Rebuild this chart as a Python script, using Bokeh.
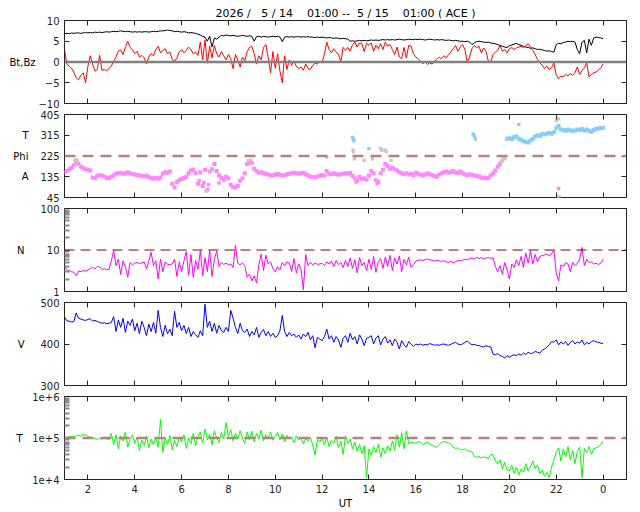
from bokeh.plotting import figure
from bokeh.layouts import column
from bokeh.models import (Range1d, LinearAxis, LogAxis, FixedTicker, Span,
                          ColumnDataSource, BasicTickFormatter)
from bokeh.embed import file_html
from bokeh.resources import INLINE

# ---------------- data ----------------
hours = [round(1 + 0.1 * i, 1) for i in range(231)]   # 01:00 .. 24:00 UT, 6-min grid

bt = [6.8, 6.9, 6.8, 7.0, 6.9, 7.0, 7.0, 6.9, 7.0, 7.1,
      7.0, 7.1, 7.0, 7.2, 7.1, 7.2, 7.1, 7.2, 7.3, 7.2,
      7.3, 7.4, 7.3, 7.4, 7.5, 7.4, 7.3, 7.4, 7.3, 7.2,
      7.3, 7.2, 7.3, 7.2, 7.3, 7.3, 7.2, 7.3, 7.4, 7.3,
      7.4, 7.5, 7.5, 7.6, 7.7, 7.6, 7.5, 7.3, 7.4, 7.3,
      7.2, 7.3, 7.2, 7.0, 7.1, 7.0, 6.9, 6.7, 6.5, 6.2,
      6.0, 5.0, 6.2, 3.6, 5.8, 5.5, 6.0, 6.4, 6.3, 6.5,
      6.4, 6.3, 6.4, 6.3, 6.2, 6.3, 6.4, 6.3, 6.2, 6.3,
      6.2, 5.0, 6.1, 6.2, 6.0, 6.2, 6.1, 6.0, 6.1, 6.2,
      6.1, 6.2, 6.0, 4.9, 6.0, 6.1, 6.0, 6.1, 6.0, 6.1,
      6.1, 6.0, 6.1, 6.0, 6.1, 6.0, 6.0, 5.9, 6.0, 5.9,
      6.0, 5.9, 5.8, 5.9, 5.8, 5.7, 5.8, 5.7, 5.6, 5.7,
      5.6, 5.5, 5.0, 5.1, 5.0, 5.1, 5.2, 5.1, 5.2, 5.1,
      5.2, 5.3, 5.2, 5.3, 5.2, 5.3, 5.4, 5.3, 5.4, 5.3,
      5.4, 5.3, 5.4, 5.5, 5.4, 5.3, 5.4, 5.5, 5.4, 5.4,
      5.5, 5.4, 5.5, 5.4, 5.3, 5.4, 5.5, 5.4, 5.3, 5.4,
      5.3, 5.4, 5.3, 5.2, 5.3, 5.2, 5.1, 5.2, 5.1, 5.0,
      5.0, 4.9, 5.0, 4.8, 4.2, 4.6, 4.9, 5.0, 4.9, 4.8,
      4.7, 4.8, 4.6, 4.5, 4.4, 4.2, 4.0, 3.8, 3.6, 3.5,
      3.9, 4.1, 4.3, 4.5, 4.2, 4.0, 3.8, 3.6, 3.5, 3.3,
      3.4, 3.2, 3.0, 3.1, 2.9, 2.8, 2.6, 2.7, 2.5, 2.4,
      4.2, 4.5, 4.4, 4.7, 4.8, 5.0, 4.9, 5.0, 4.8, 3.0,
      2.0, 4.8, 5.2, 2.2, 5.5, 4.0, 5.8, 6.0, 5.9, 5.8,
      5.6]

bz = [3.0, -0.5, -1.0, -1.5, -2.5, -3.8, -4.3, -3.2, -2.6, -5.0,
      -1.0, 1.5, -0.5, -2.2, -1.8, 1.6, -2.0, -1.8, -2.1, -1.6,
      -1.0, 0.2, 1.2, 2.6, 2.9, 1.8, 3.5, 5.0, 3.5, 3.0,
      2.0, 2.6, 1.2, 1.6, 1.0, -0.5, 1.2, 2.0, 1.5, 3.0,
      3.8, 2.2, 2.8, 3.2, 2.0, 2.4, 0.6, 0.2, 1.0, 2.4,
      3.0, 2.2, 2.8, 3.6, 3.0, 2.0, 2.4, 1.6, 4.8, 0.5,
      5.3, -0.3, 3.8, 1.0, 4.0, 2.0, 1.2, 2.5, 1.5, 0.5,
      1.8, 0.8, -1.6, 1.8, 0.5, -1.2, 1.2, 0.3, 2.5, 3.5,
      3.8, 2.0, -0.5, 1.5, 0.5, 3.5, 4.2, 1.0, -2.6, 2.5,
      -1.5, 2.0, -2.2, -5.0, 1.5, -1.8, 0.5, -0.8, 0.2, -1.0,
      -1.6, -1.2, -2.0, -0.5, -1.5, -1.8, -0.8, -0.3, -0.5, 0.2,
      -0.2, 2.0, 4.8, 3.0, 2.2, 3.2, 2.4, 1.8, 0.0, 3.5,
      2.8, 3.5, 2.6, 4.2, 4.8, 3.6, 4.6, 4.4, 2.5, 4.5,
      4.0, 4.6, 2.6, 4.0, 3.2, 4.4, 3.0, 4.8, 3.8, 4.2,
      3.0, 1.8, 3.6, 1.2, 0.8, 3.5, 1.0, 4.0, 3.8, 2.0,
      1.2, 0.8, 0.2, -0.4, 0.0, -0.6, -0.2, -0.5, 0.2, 0.6,
      1.2, 0.8, 1.5, 1.0, 1.8, 2.4, 3.2, 4.0, 2.6, 3.6,
      4.2, 3.0, 0.0, 1.2, 3.2, 4.0, 3.4, 3.8, 2.2, 3.4,
      2.6, 0.2, 0.0, 1.8, 2.4, 2.8, 4.0, 2.6, 3.0, 2.2,
      3.2, 3.5, 3.0, 3.4, 3.6, 3.8, 3.4, 4.0, 4.4, 3.6,
      2.8, 1.8, 0.6, -0.2, -0.8, -1.6, -1.0, -1.8, -1.4, -0.2,
      -3.2, -4.0, -3.4, -3.6, -3.0, -3.4, -2.8, -3.2, -2.6, -1.2,
      -3.0, -2.0, -1.5, -0.2, -3.6, -3.0, -2.6, -2.4, -2.0, -1.4,
      -0.5]

phi = [155, 160, 168, 175, 185, 198, 190, 178, 172, 168,
       165, 162, 132, 128, 138, 142, 140, 136, 130, 128,
       135, 142, 148, 150, 152, 148, 150, 154, 150, 147,
       145, 140, 142, 138, 136, 140, 134, 128, 126, 130,
       126, 132, 148, 154, 152, 158, 105, 90, 112, 120,
       125, 130, 134, 150, 162, 166, 150, 105, 155, 95,
       165, 80, 158, 168, 190, 160, 140, 130, 122, 135,
       128, 100, 92, 88, 95, 118, 128, 150, 190, 198,
       196, 170, 160, 152, 155, 150, 148, 145, 140, 142,
       145, 148, 144, 140, 142, 146, 148, 150, 152, 150,
       148, 150, 152, 146, 140, 136, 134, 132, 136, 140,
       142, 140, 160, 148, 146, 150, 147, 144, 146, 148,
       150, 148, 152, 138, 128, 118, 135, 125, 128, 122,
       140, 160, 150, 120, 112, 150, 165, 190, 182, 170,
       175, 168, 162, 155, 150, 146, 150, 145, 148, 142,
       152, 148, 144, 140, 145, 150, 146, 142, 138, 135,
       145, 150, 155, 158, 152, 156, 160, 155, 150, 158,
       150, 145, 142, 146, 144, 140, 138, 136, 130, 132,
       128, 130, 140, 150, 162, 178, 190, 205, 215, 300,
       302, 298, 306, 310, 300, 296, 290, 286, 284, 292,
       300, 310, 315, 312, 320, 318, 322, 325, 322, 328,
       345, 355, 340, 338, 335, 340, 337, 333, 336, 340,
       338, 342, 336, 340, 335, 330, 338, 342, 344, 346,
       348]

phi_gray_hours = [1.45, 1.5, 1.55, 8.85, 8.95, 12.2, 13.32, 13.35, 13.38, 13.8, 14.15,
                  14.5, 14.55, 14.7, 14.75, 14.95, 19.65, 19.75, 22.0, 22.1, 22.05, 22.12, 7.05]
phi_gray_deg = [206, 210, 204, 205, 207, 220, 250, 243, 213, 206, 213,
                257, 250, 250, 243, 206, 200, 220, 379, 386, 45, 48, 72]
phi_blue_hours = [13.3, 13.33, 13.36, 14.0, 18.45, 18.5, 18.55, 20.4]
phi_blue_deg = [306, 298, 291, 257, 321, 310, 299, 362]
phi_violet_hours = [22.1, 6.75, 6.95, 7.15, 7.6, 13.45, 14.35]
phi_violet_deg = [84, 118, 110, 100, 108, 112, 104]

density = [4.1, 3.3, 3.2, 3.0, 2.9, 2.4, 3.1, 3.0, 3.2, 3.1,
           3.3, 3.6, 3.8, 3.5, 4.0, 3.9, 3.4, 3.5, 3.4, 3.4,
           5.5, 9.8, 4.2, 6.0, 2.6, 5.5, 4.0, 2.2, 5.0, 4.4,
           4.8, 5.0, 4.7, 4.9, 5.2, 3.5, 5.4, 8.8, 4.2, 5.5,
           2.0, 6.0, 3.0, 5.2, 4.5, 4.4, 4.6, 6.0, 2.3, 5.2,
           3.0, 5.5, 9.2, 2.5, 7.8, 2.2, 5.6, 3.4, 9.6, 2.4,
           6.5, 3.0, 9.8, 2.3, 5.8, 9.5, 4.0, 5.0, 4.5, 4.8,
           4.4, 4.6, 3.8, 13.0, 4.8, 4.4, 4.9, 4.2, 2.2, 2.6,
           1.8, 2.4, 1.6, 4.5, 8.0, 3.2, 7.5, 4.6, 5.2, 3.6,
           3.0, 4.0, 3.3, 5.0, 4.2, 5.2, 4.8, 3.0, 6.2, 2.8,
           4.6, 3.4, 1.1, 7.8, 4.2, 5.0, 4.4, 4.8, 4.5, 4.6,
           4.8, 4.2, 5.2, 4.6, 5.4, 4.0, 5.6, 4.4, 5.0, 3.8,
           5.6, 4.0, 6.4, 3.6, 5.8, 2.8, 6.6, 4.2, 5.0, 3.2,
           6.0, 3.4, 7.0, 2.9, 5.2, 6.2, 3.6, 6.8, 4.0, 7.4,
           3.2, 6.4, 4.6, 7.2, 3.0, 6.0, 4.4, 6.8, 3.8, 4.4,
           5.4, 5.6, 5.8, 5.6, 5.9, 6.1, 5.8, 5.6, 5.4, 5.7,
           5.5, 5.3, 5.5, 5.2, 5.0, 5.4, 4.9, 5.2, 5.6, 5.4,
           5.7, 6.0, 5.8, 6.2, 6.4, 6.1, 6.6, 6.3, 6.5, 6.2,
           6.4, 6.6, 6.3, 6.5, 4.0, 3.0, 4.2, 2.6, 5.0, 3.4,
           2.0, 4.6, 3.8, 5.8, 4.2, 7.0, 3.8, 8.4, 4.8, 9.6,
           4.6, 7.8, 5.2, 7.0, 7.4, 7.6, 8.0, 7.2, 8.2, 10.0,
           2.8, 1.8, 4.4, 4.0, 5.0, 4.6, 3.0, 5.0, 4.2, 4.8,
           6.0, 11.5, 4.2, 6.0, 5.0, 5.2, 4.6, 4.8, 4.5, 4.8,
           6.0]

speed = [465, 456, 455, 453, 454, 475, 462, 460, 458, 457,
         459, 461, 455, 457, 454, 452, 450, 451, 449, 450,
         452, 466, 430, 458, 440, 462, 428, 455, 445, 460,
         432, 450, 425, 455, 440, 420, 448, 430, 452, 426,
         481, 440, 418, 445, 425, 436, 420, 479, 440, 452,
         432, 445, 425, 440, 418, 430, 422, 416, 432, 420,
         496, 440, 455, 430, 450, 426, 445, 432, 428, 440,
         430, 481, 462, 440, 425, 450, 432, 428, 436, 418,
         430, 422, 440, 416, 428, 435, 420, 430, 418, 426,
         416, 420, 432, 469, 430, 418, 428, 420, 424, 416,
         422, 412, 424, 418, 428, 410, 420, 391, 416, 412,
         408, 418, 436, 412, 420, 404, 418, 410, 392, 414,
         420, 404, 426, 410, 418, 400, 422, 412, 396, 414,
         416, 420, 400, 414, 420, 398, 412, 418, 402, 410,
         396, 412, 404, 388, 408, 398, 392, 406, 400, 394,
         400, 398, 400, 397, 399, 398, 401, 399, 397, 398,
         397, 399, 400, 398, 397, 399, 402, 404, 400, 398,
         400, 404, 407, 402, 398, 399, 397, 396, 394, 393,
         396, 394, 393, 376, 374, 377, 372, 370, 366, 372,
         368, 372, 374, 372, 376, 373, 378, 375, 380, 377,
         378, 382, 380, 378, 385, 388, 392, 398, 406, 404,
         410, 398, 405, 400, 406, 397, 404, 408, 400, 405,
         402, 410, 398, 404, 400, 406, 408, 405, 404, 402,
         401]

temp_kk = [100, 104, 108, 110, 106, 112, 118, 110, 125, 120,
           108, 104, 100, 96, 92, 98, 94, 100, 96, 92,
           130, 70, 120, 55, 110, 85, 140, 60, 95, 118,
           75, 105, 50, 90, 65, 112, 58, 95, 70, 100,
           60, 280, 45, 98, 70, 115, 52, 88, 62, 105,
           80, 120, 56, 100, 72, 130, 65, 110, 140, 75,
           165, 90, 125, 68, 150, 100, 78, 135, 95, 235,
           110, 160, 85, 130, 95, 150, 100, 75, 140, 90,
           145, 80, 130, 95, 155, 85, 120, 100, 140, 88,
           110, 135, 90, 125, 80, 115, 95, 105, 78, 112,
           90, 100, 72, 95, 85, 105, 68, 39, 90, 82,
           98, 70, 105, 62, 88, 75, 110, 58, 85, 40,
           112, 75, 95, 55, 80, 48, 70, 42, 65, 11,
           55, 38, 62, 45, 70, 35, 58, 42, 65, 48,
           85, 50, 120, 60, 135, 55, 147, 72, 80, 78,
           75, 82, 78, 70, 74, 80, 72, 68, 62, 60,
           70, 78, 82, 80, 76, 72, 60, 56, 58, 52,
           52, 55, 50, 48, 46, 36, 34, 36, 33, 35,
           34, 32, 40, 39, 28, 24, 30, 18, 26, 17,
           16, 22, 14, 20, 13, 18, 15, 24, 16, 20,
           28, 18, 22, 14, 17, 12, 15, 11, 20, 30,
           45, 58, 28, 55, 35, 62, 30, 50, 24, 48,
           60, 11, 56, 45, 62, 40, 55, 58, 62, 68,
           85]

x_ticks = [2, 4, 6, 8, 10, 12, 14, 16, 18, 20, 22, 24]
x_tick_labels = {24: "0"}
title_text = "2026 /\u00a0\u00a0 5 / 14\u00a0\u00a0\u00a0 01:00 --\u00a0 5 / 15\u00a0\u00a0\u00a0 01:00 ( ACE )"

# ---------------- styling helpers ----------------
FONT = "DejaVu Sans"
INK = "#222222"
W = 640


def style_axis(ax, labels):
    ax.axis_line_color = None
    ax.major_tick_in = 5
    ax.major_tick_out = 0
    ax.major_tick_line_color = INK
    ax.minor_tick_line_color = None
    ax.major_label_text_font = FONT
    ax.major_label_text_font_size = "10px"
    if labels:
        ax.major_label_text_color = INK
        ax.major_label_standoff = 5
    else:
        ax.major_label_text_color = None
        ax.major_label_standoff = 0


def add_name_axis(p, ticks, names, standoff, log=False):
    ax = (LogAxis if log else LinearAxis)(ticker=FixedTicker(ticks=ticks))
    ax.major_label_overrides = dict(zip(ticks, names))
    ax.axis_line_color = None
    ax.major_tick_line_color = None
    ax.minor_tick_line_color = None
    ax.major_tick_in = 0
    ax.major_tick_out = 0
    ax.major_label_standoff = standoff
    ax.major_label_text_font = FONT
    ax.major_label_text_font_size = "10px"
    ax.major_label_text_color = "black"
    p.add_layout(ax, "left")


def make_panel(height, top, bottom, y_start, y_end, y_ticks, log=False,
               minor=None, y_overrides=None, x_labels=False, title=None):
    p = figure(width=W, height=height, title=title,
               x_range=Range1d(1, 25), y_range=Range1d(y_start, y_end),
               y_axis_type="log" if log else "linear",
               output_backend="svg", toolbar_location=None,
               min_border_left=64, min_border_right=14,
               min_border_top=top, min_border_bottom=bottom)
    p.xgrid.grid_line_color = None
    p.ygrid.grid_line_color = None
    p.outline_line_color = INK
    p.outline_line_width = 1
    p.background_fill_color = "white"
    p.border_fill_color = "white"

    bx = p.below[0]
    bx.ticker = FixedTicker(ticks=x_ticks)
    style_axis(bx, x_labels)
    if x_labels:
        bx.major_label_overrides = x_tick_labels

    ly = p.left[0]
    if minor:
        ly.ticker = FixedTicker(ticks=y_ticks, minor_ticks=minor)
    else:
        ly.ticker = FixedTicker(ticks=y_ticks)
    style_axis(ly, True)
    ly.formatter = BasicTickFormatter()
    if y_overrides:
        ly.major_label_overrides = y_overrides
    if minor:
        ly.minor_tick_line_color = "#8a8a8a"
        ly.minor_tick_line_width = 2
        ly.minor_tick_in = 5
        ly.minor_tick_out = 0

    ry = LogAxis(ticker=FixedTicker(ticks=y_ticks)) if log else LinearAxis(ticker=FixedTicker(ticks=y_ticks))
    style_axis(ry, False)
    p.add_layout(ry, "right")

    tx = LinearAxis(ticker=FixedTicker(ticks=x_ticks))
    style_axis(tx, False)
    p.add_layout(tx, "above")
    return p


# ---------------- panel 1 : Bt, Bz ----------------
p1 = make_panel(108, 20, 5, -10, 10, [-10, -5, 0, 5, 10], title=title_text)
p1.title.align = "center"
p1.title.text_font = FONT
p1.title.text_font_size = "11px"
p1.title.text_font_style = "normal"
p1.title.text_color = "black"
p1.title.standoff = 2
src = ColumnDataSource(dict(h=hours, bt=bt, bz=bz))
p1.line("h", "bt", source=src, line_color="black", line_width=1)
p1.line("h", "bz", source=src, line_color="#ff0000", line_width=1)
p1.add_layout(Span(location=0, dimension="width", line_color="#808080", line_width=2.5))
add_name_axis(p1, [0], ["Bt,Bz"], 0)

# ---------------- panel 2 : Phi ----------------
p2 = make_panel(94, 6, 5, 45, 405, [45, 135, 225, 315, 405])
phi_colors = ["#87cefa" if v >= 270 else ("#c8c8c8" if v >= 200 else "#ff88ff") for v in phi]
p2.scatter(hours, phi, marker="square", size=4, fill_color=phi_colors, line_color=None)
p2.scatter(phi_gray_hours, phi_gray_deg, marker="square", size=3.4, fill_color="#c8c8c8", line_color=None)
p2.scatter(phi_blue_hours, phi_blue_deg, marker="square", size=3.4, fill_color="#87cefa", line_color=None)
p2.scatter(phi_violet_hours, phi_violet_deg, marker="square", size=3.4, fill_color="#ff88ff", line_color=None)
p2.add_layout(Span(location=225, dimension="width", line_color="#b88080", line_width=2.5,
                   line_dash="11 7"))
add_name_axis(p2, [135, 225, 315], ["A", "Phi", "T"], 9)

# ---------------- panel 3 : N ----------------
p3 = make_panel(94, 6, 5, 1, 100, [1, 10, 100], log=True,
                minor=[2, 3, 4, 5, 6, 7, 8, 9, 20, 30, 40, 50, 60, 70, 80, 90],
                y_overrides={1: "1", 10: "10", 100: "100"})
p3.line(hours, density, line_color="#ff00ff", line_width=1)
p3.add_layout(Span(location=10, dimension="width", line_color="#800000", line_width=1.1,
                   line_dash="10 6"))
add_name_axis(p3, [10], ["N"], 13, log=True)

# ---------------- panel 4 : V ----------------
p4 = make_panel(94, 6, 5, 300, 500, [300, 400, 500])
p4.line(hours, speed, line_color="#0000ff", line_width=1)
add_name_axis(p4, [400], ["V"], 13)

# ---------------- panel 5 : T ----------------
temp = [v * 1000 for v in temp_kk]
p5 = make_panel(122, 6, 33, 1e4, 1e6, [10000, 100000, 1000000], log=True,
                minor=[20000, 30000, 40000, 50000, 60000, 70000, 80000, 90000,
                       200000, 300000, 400000, 500000, 600000, 700000, 800000, 900000],
                y_overrides={10000: "1e+4", 100000: "1e+5", 1000000: "1e+6"},
                x_labels=True)
p5.line(hours, temp, line_color="#00ff00", line_width=1)
p5.add_layout(Span(location=1e5, dimension="width", line_color="#b88080", line_width=2.5,
                   line_dash="11 7"))
add_name_axis(p5, [100000], ["T"], 7, log=True)
bx5 = p5.below[0]
bx5.axis_label = "UT"
bx5.axis_label_text_font = FONT
bx5.axis_label_text_font_size = "10px"
bx5.axis_label_text_font_style = "normal"
bx5.axis_label_text_color = "black"
bx5.axis_label_standoff = 2

layout = column(p1, p2, p3, p4, p5, spacing=0)
open("out.html", "w").write(file_html(layout, INLINE))
